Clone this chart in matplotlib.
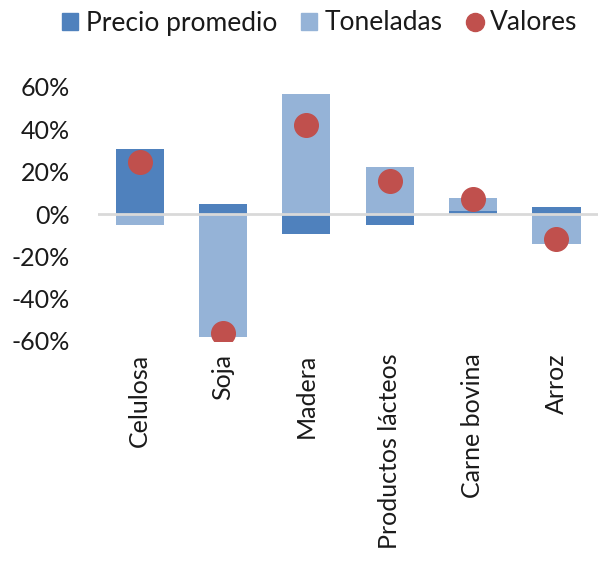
import matplotlib
matplotlib.use("Agg")
import matplotlib.pyplot as plt
import numpy as np
from matplotlib.lines import Line2D
from matplotlib.patches import Patch

categories = ["Celulosa", "Soja", "Madera", "Productos lácteos", "Carne bovina", "Arroz"]
precio = [30.5, 4.7, -9.3, -5.1, 1.2, 3.3]
toneladas = [-5.1, -57.9, 56.9, 22.2, 6.4, -14.0]
valores = [24.4, -56.3, 41.9, 15.7, 7.2, -11.7]
yticks = [-60, -40, -20, 0, 20, 40, 60]

c_dark = "#4F81BD"
c_light = "#95B3D7"
c_red = "#C0504D"

plt.rcParams["font.family"] = ["Lato", "DejaVu Sans"]

fig = plt.figure(figsize=(5.98, 5.61), dpi=100)
ax = fig.add_axes([98/598, 1-341/561, 500/598, 254/561])

x = np.arange(len(categories))
pos = np.zeros(len(categories))
neg = np.zeros(len(categories))
for vals, col in [(precio, c_dark), (toneladas, c_light)]:
    v = np.array(vals)
    bottom = np.where(v >= 0, pos, neg)
    ax.bar(x, v, width=0.58, bottom=bottom, color=col, zorder=2)
    pos = pos + np.where(v >= 0, v, 0)
    neg = neg + np.where(v < 0, v, 0)

ax.axhline(0, color="#D9D9D9", lw=2, zorder=3)
ax.plot(x, valores, "o", color=c_red, markersize=17, zorder=4, lw=0)

ax.set_xlim(-0.5, len(categories) - 0.5)
ax.set_ylim(-60, 60)
ax.set_yticks(yticks)
ax.set_yticklabels([f"{t}%" for t in yticks], fontsize=18, color="#1a1a1a")
ax.set_xticks(x)
ax.set_xticklabels(categories, rotation=90, fontsize=18, color="#1a1a1a")
ax.tick_params(axis="y", length=0, pad=20)
ax.tick_params(axis="x", length=0, pad=9)
for s in ax.spines.values():
    s.set_visible(False)

handles = [Patch(color=c_dark, label="Precio promedio"),
           Patch(color=c_light, label="Toneladas"),
           Line2D([], [], marker="o", color=c_red, lw=0, markersize=13, label="Valores")]
fig.legend(handles=handles, loc="center", bbox_to_anchor=(320/598, 1-23/561), ncol=3,
           frameon=False, fontsize=19, handlelength=0.6, handleheight=0.6,
           handletextpad=0.3, columnspacing=0.9, labelcolor="#1a1a1a")

fig.savefig("out.png", dpi=100)
